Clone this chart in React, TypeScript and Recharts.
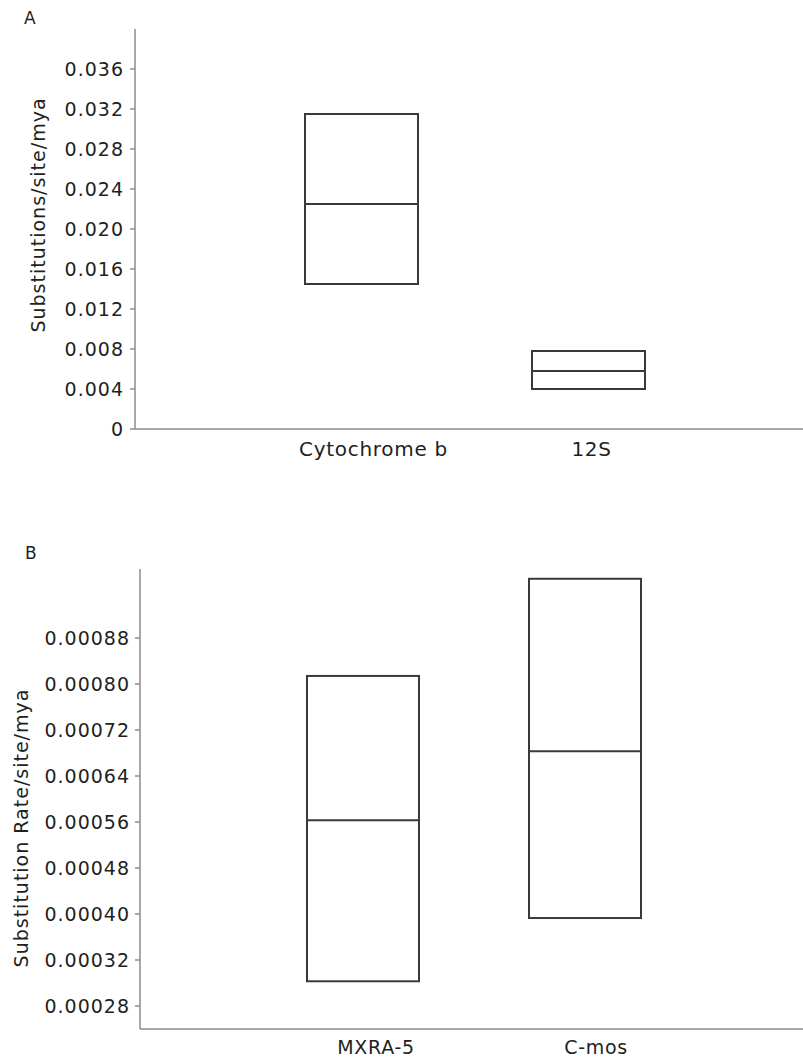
import { ComposedChart, Bar, XAxis, YAxis, Label } from "recharts";

// Panel A – mitochondrial genes
const genesA = ["Cytochrome b", "12S"];
const lowA = [0.0145, 0.004];
const medianA = [0.0225, 0.0058];
const highA = [0.0315, 0.0078];
const yTicksA = [0, 0.004, 0.008, 0.012, 0.016, 0.02, 0.024, 0.028, 0.032, 0.036];
const yLabelsA = ["0", "0.004", "0.008", "0.012", "0.016", "0.020", "0.024", "0.028", "0.032", "0.036"];

// Panel B – nuclear genes
const genesB = ["MXRA-5", "C-mos"];
const lowB = [0.000283, 0.000393];
const medianB = [0.000563, 0.000683];
const highB = [0.000814, 0.000983];
const yTicksB = [0.00024, 0.00032, 0.0004, 0.00048, 0.00056, 0.00064, 0.00072, 0.0008, 0.00088];
const yLabelsB = ["0.00028", "0.00032", "0.00040", "0.00048", "0.00056", "0.00064", "0.00072", "0.00080", "0.00088"];

const FONT = "DejaVu Sans";
const TEXT = "#231f20";
const AXIS = "#8c8c8c";
const BOX = "#3a3a3a";

const build = (genes: string[], low: number[], median: number[], high: number[]) =>
  genes.map((gene, i) => ({ gene, low: low[i], median: median[i], high: high[i] }));

const dataA = build(genesA, lowA, medianA, highA);
const dataB = build(genesB, lowB, medianB, highB);

// box drawn from the range bar, median line placed proportionally inside it
const BoxShape = (props: any) => {
  const { x, y, width, height, payload } = props;
  const top = Math.min(y, y + height);
  const h = Math.abs(height);
  const my = top + (h * (payload.high - payload.median)) / (payload.high - payload.low);
  return (
    <g>
      <rect x={x} y={top} width={width} height={h} fill="none" stroke={BOX} strokeWidth={2} />
      <line x1={x} x2={x + width} y1={my} y2={my} stroke={BOX} strokeWidth={2} />
    </g>
  );
};

const AxisTitle = ({ viewBox, value, bx, shift }: any) => {
  const cy = viewBox.y + viewBox.height / 2 + shift;
  return (
    <text
      x={bx}
      y={cy}
      transform={`rotate(-90 ${bx} ${cy})`}
      textAnchor="middle"
      fill={TEXT}
      fontSize={19}
      fontFamily={FONT}
      letterSpacing={1}
    >
      {value}
    </text>
  );
};

// category labels sit a little right of the box centres in the original
const GeneTick = ({ x, y, payload, index, shifts, size }: any) => (
  <text
    x={x + (shifts[index] ?? 0)}
    y={y}
    dy="0.71em"
    textAnchor="middle"
    fill={TEXT}
    fontSize={size}
    fontFamily={FONT}
    letterSpacing={0.7}
  >
    {payload.value}
  </text>
);

const tickStyle = { fill: TEXT, fontSize: 19, fontFamily: FONT, letterSpacing: 1 };

export default function App() {
  return (
    <div style={{ position: "absolute", left: 0, top: 0, width: 803, height: 1058, background: "#fff" }}>
      <svg width={803} height={1058} style={{ position: "absolute", left: 0, top: 0 }}>
        <text x={24} y={24} fontSize={17} fontFamily={FONT} fill={TEXT}>A</text>
        <text x={25} y={559} fontSize={17} fontFamily={FONT} fill={TEXT}>B</text>
      </svg>

      <div style={{ position: "absolute", left: 0, top: 0 }}>
        <ComposedChart width={803} height={470} data={dataA} margin={{ top: 29, right: 0, left: 0, bottom: 11 }}>
          <XAxis
            dataKey="gene"
            height={30}
            padding={{ left: 113, right: 101 }}
            tickLine={false}
            tickSize={0}
            tickMargin={13}
            axisLine={{ stroke: AXIS, strokeWidth: 1.5 }}
            tick={<GeneTick shifts={[12, 3]} size={20} />}
          />
          <YAxis
            width={135}
            domain={[0, 0.04]}
            ticks={yTicksA}
            tickFormatter={(_v: number, i: number) => yLabelsA[i]}
            tickSize={5}
            tickMargin={6}
            axisLine={{ stroke: AXIS, strokeWidth: 1.5 }}
            tickLine={{ stroke: AXIS, strokeWidth: 1.5 }}
            tick={tickStyle}
          >
            <Label content={(p: any) => <AxisTitle {...p} value="Substitutions/site/mya" bx={45} shift={-14} />} />
          </YAxis>
          <Bar dataKey={(d: any) => [d.low, d.high]} barSize={113} shape={<BoxShape />} isAnimationActive={false} />
        </ComposedChart>
      </div>

      <div style={{ position: "absolute", left: 0, top: 520 }}>
        <ComposedChart width={803} height={538} data={dataB} margin={{ top: 49, right: 0, left: 0, bottom: 0 }}>
          <XAxis
            dataKey="gene"
            height={29}
            padding={{ left: 112, right: 107 }}
            tickLine={false}
            tickSize={0}
            tickMargin={12}
            axisLine={{ stroke: AXIS, strokeWidth: 1.5 }}
            tick={<GeneTick shifts={[13, 11]} size={19} />}
          />
          <YAxis
            width={140}
            domain={[0.0002, 0.001]}
            ticks={yTicksB}
            tickFormatter={(_v: number, i: number) => yLabelsB[i]}
            tickSize={5}
            tickMargin={5}
            axisLine={{ stroke: AXIS, strokeWidth: 1.5 }}
            tickLine={{ stroke: AXIS, strokeWidth: 1.5 }}
            tick={tickStyle}
          >
            <Label content={(p: any) => <AxisTitle {...p} value="Substitution Rate/site/mya" bx={28} shift={29} />} />
          </YAxis>
          <Bar dataKey={(d: any) => [d.low, d.high]} barSize={112} shape={<BoxShape />} isAnimationActive={false} />
        </ComposedChart>
      </div>
    </div>
  );
}
